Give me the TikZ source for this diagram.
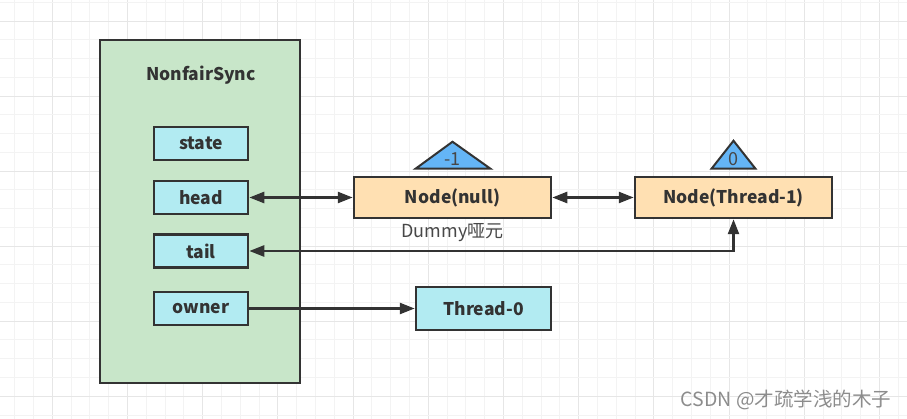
\documentclass[tikz,border=0pt]{standalone}
\usepackage{fontspec}
\setmainfont{Noto Sans CJK SC}
\usepackage{tikz}
\usetikzlibrary{arrows.meta, calc, positioning}

\definecolor{gridminor}{RGB}{243,243,243}
\definecolor{gridmajor}{RGB}{230,230,230}
\definecolor{syncgreen}{RGB}{200,230,201}
\definecolor{fieldcyan}{RGB}{178,235,242}
\definecolor{nodeorange}{RGB}{255,224,178}
\definecolor{waitblue}{RGB}{100,181,246}
\definecolor{edgedark}{RGB}{51,51,51}

\tikzset{
  boxbase/.style={draw=edgedark, line width=2.5pt, font=\bfseries\fontsize{17.5}{20}\selectfont, text=edgedark},
  field/.style={boxbase, fill=fieldcyan, minimum width=94pt, minimum height=33pt},
  qnode/.style={boxbase, fill=nodeorange, minimum width=197pt, minimum height=41pt},
  link/.style={draw=edgedark, line width=2.5pt, -{Triangle[length=15pt,width=11pt]}},
  blink/.style={link, {Triangle[length=15pt,width=11pt]}-{Triangle[length=15pt,width=11pt]}},
  waitmark/.style={draw=edgedark, line width=2pt, fill=waitblue},
  plain/.style={font=\fontsize{18}{20}\selectfont, text=edgedark!90}
}

\begin{document}
\begin{tikzpicture}[x=1pt, y=-1pt]
        \useasboundingbox (0,0) rectangle (907,419);
        % Grid paper
        \foreach \k in {0,...,47} {
          \pgfmathtruncatemacro{\m}{mod(\k,4)}
          \ifnum\m=2 \def\gc{gridmajor}\else\def\gc{gridminor}\fi
          \draw[\gc, line width=1pt] ({14.7+18.8*\k},0) -- ++(0,419);
        }
        \foreach \k in {0,...,22} {
          \pgfmathtruncatemacro{\m}{mod(\k,4)}
          \ifnum\m=1 \def\gc{gridmajor}\else\def\gc{gridminor}\fi
          \draw[\gc, line width=1pt] (0,{2.5+18.75*\k}) -- ++(907,0);
        }
        % NonfairSync and its fields
        \node[boxbase, fill=syncgreen, minimum width=200pt, minimum height=343pt] (sync) at (200,211.5) {};
        \node[boxbase, draw=none, fill=none] (title) at (201,75) {NonfairSync};
        \node[field] (state) at (201,143.5) {state};
        \node[field] (head) at (201,197.5) {head};
        \node[field] (tail) at (201,251) {tail};
        \node[field] (owner) at (201,308.5) {owner};
        % Queue nodes
        \node[qnode] (nul) at (452.5,197.5) {Node(null)};
        \node[qnode] (t1) at (733.5,197.5) {Node(Thread-1)};
        \node[field, minimum width=135pt, minimum height=43pt] (t0) at (483.5,308.5) {Thread-0};
        \node[plain, below=1pt of nul] (dummy) {Dummy哑元};
        % Wait status marks
        \draw[waitmark] ([xshift=-37pt,yshift=7pt]nul.north) -- ([yshift=34pt]nul.north) -- ([xshift=38pt,yshift=7pt]nul.north) -- cycle;
        \node[plain] (wsnul) at ([yshift=17pt]nul.north) {-1};
        \draw[waitmark] ([xshift=-22pt,yshift=7pt]t1.north) -- ([yshift=35pt]t1.north) -- ([xshift=22pt,yshift=7pt]t1.north) -- cycle;
        \node[plain] (wst1) at ([yshift=17pt]t1.north) {0};
        % Links
        \draw[blink] (head) -- (nul);
        \draw[blink] (nul) -- (t1);
        \draw[blink] (tail) -| (t1.south);
        \draw[link] (owner) -- (t0);
        % Watermark
        \node[font=\fontsize{19.5}{22}\selectfont, text=black!45] (mark) at (786,400) {CSDN @才疏学浅的木子};
\end{tikzpicture}
\end{document}
